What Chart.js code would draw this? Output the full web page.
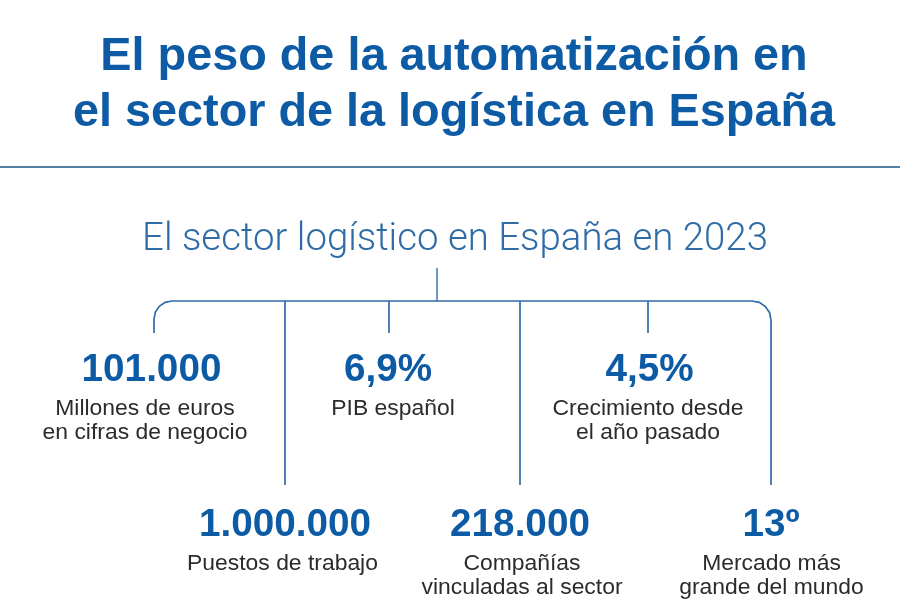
<!DOCTYPE html>
<html lang="es">
<head>
<meta charset="utf-8">
<title>El peso de la automatización</title>
<script src="https://cdn.jsdelivr.net/npm/chart.js@4"></script>
<style>
  html, body { margin: 0; padding: 0; background: #fff; }
  #wrap { width: 900px; height: 614px; }
</style>
</head>
<body>
<div id="wrap"><canvas id="chart" width="900" height="614"></canvas></div>
<script>
const titleLines = ["El peso de la automatización en", "el sector de la logística en España"];
const subtitle = "El sector logístico en España en 2023";
const statValues = ["101.000", "1.000.000", "6,9%", "218.000", "4,5%", "13º"];
const statLabels = [
  ["Millones de euros", "en cifras de negocio"],
  ["Puestos de trabajo"],
  ["PIB español"],
  ["Compañías", "vinculadas al sector"],
  ["Crecimiento desde", "el año pasado"],
  ["Mercado más", "grande del mundo"],
];

// layout, in the hidden axes' units (same as the reference pixels)
const branchX = [154, 285, 389, 520, 648, 771];
const branchEnd = [333, 485, 333, 485, 333, 485];
const valueX = [151.5, 285, 388, 520, 649.5, 771];
const valueY = [381, 536, 381, 536, 381, 536];
const labelX = [145, 282.5, 393, 522, 648, 771.5];
const railY = 301;
const stemX = 437;
const stemTop = 268;
const ruleY = 167;

const BLUE = "#0e5ba5";
const LINE = "#2f6ca6";

// rail with rounded ends, runs between the first and last branch
const rail = [
  { x: 154, y: 319 }, { x: 155.4, y: 312.1 }, { x: 159.3, y: 306.3 }, { x: 165.1, y: 302.4 }, { x: 172, y: 301 },
  { x: 752, y: 301 }, { x: 759.3, y: 302.4 }, { x: 765.4, y: 306.6 }, { x: 769.6, y: 312.7 }, { x: 771, y: 320 },
];

const lineSet = (data, color, width) => ({
  data,
  borderColor: color,
  borderWidth: width,
  pointRadius: 0,
  tension: 0,
  fill: false,
});

const datasets = [
  lineSet([{ x: 0, y: ruleY }, { x: 900, y: ruleY }], "#1d5583", 1.7),
  lineSet(rail, LINE, 1.7),
  lineSet([{ x: stemX, y: stemTop }, { x: stemX, y: railY }], LINE, 1.4),
];
branchX.forEach((x, i) => {
  let top = railY;
  if (i === 0) top = rail[0].y;
  if (i === branchX.length - 1) top = rail[rail.length - 1].y;
  datasets.push(lineSet([{ x, y: top }, { x, y: branchEnd[i] }], LINE, 1.7));
});

const textPlugin = {
  id: "infoText",
  afterDatasetsDraw(chart) {
    const { ctx, scales } = chart;
    const put = (text, x, y, font, color) => {
      ctx.font = font;
      ctx.fillStyle = color;
      ctx.fillText(text, scales.x.getPixelForValue(x), scales.y.getPixelForValue(y));
    };
    ctx.save();
    ctx.textAlign = "center";
    ctx.textBaseline = "alphabetic";
    put(titleLines[0], 454, 70, "bold 46.8px 'Liberation Sans'", BLUE);
    put(titleLines[1], 454, 126, "bold 46.8px 'Liberation Sans'", BLUE);
    put(subtitle, 455, 250, "300 38.4px Roboto", LINE);
    statValues.forEach((v, i) => {
      put(v, valueX[i], valueY[i], "bold 38.7px 'Liberation Sans'", BLUE);
      statLabels[i].forEach((l, j) => {
        put(l, labelX[i], valueY[i] + 34 + j * 23.5, "22.9px 'Liberation Sans'", "#2b2b2b");
      });
    });
    ctx.restore();
  },
};

new Chart(document.getElementById("chart").getContext("2d"), {
  type: "line",
  data: { datasets },
  plugins: [textPlugin],
  options: {
    responsive: false,
    animation: false,
    events: [],
    layout: { padding: 0 },
    plugins: { legend: { display: false }, tooltip: { enabled: false } },
    scales: {
      x: { type: "linear", min: 0, max: 900, display: false },
      y: { type: "linear", min: 0, max: 614, reverse: true, display: false },
    },
  },
});
</script>
</body>
</html>
